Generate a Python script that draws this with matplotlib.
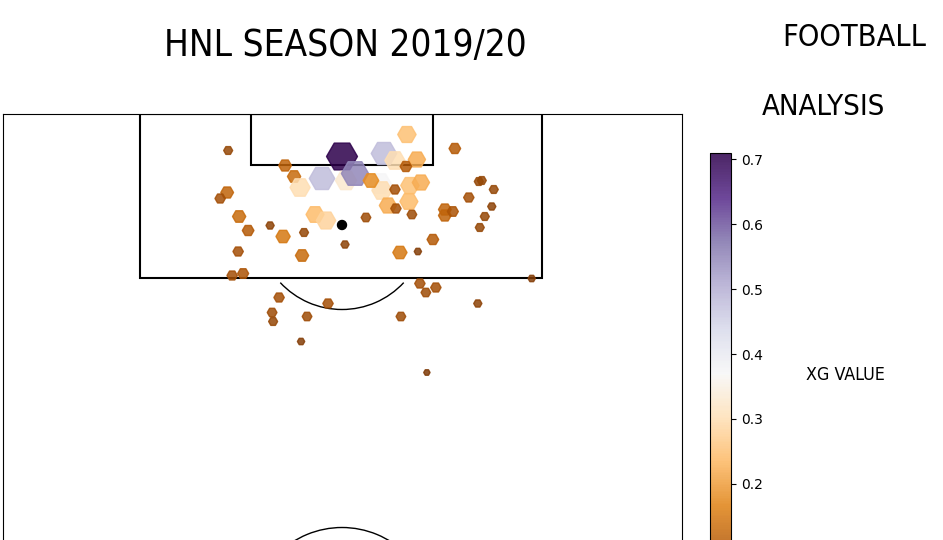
import numpy as np
import matplotlib.pyplot as plt
from matplotlib.patches import Arc, Circle, Rectangle
from matplotlib import colors

# shot positions: metres across the pitch (0-68) and metres out from the goal line
shot_x = [22.6, 34.0, 38.2, 40.5, 45.3, 41.5, 39.3, 28.3, 29.2, 29.8,
          32.0, 34.4, 35.3, 37.8, 38.0, 36.9, 40.4, 39.3, 40.8, 41.9,
          40.7, 38.6, 39.4, 41.0, 31.3, 32.4, 36.4, 34.3, 30.2, 26.8,
          28.1, 24.6, 23.7, 22.5, 21.8, 23.6, 30.0, 39.8, 41.6, 43.1,
          44.3, 44.3, 45.1, 46.7, 47.7, 48.0, 49.2, 49.0, 48.3, 47.8,
          23.0, 24.1, 27.7, 27.0, 27.1, 30.5, 32.6, 29.9, 39.9, 41.8,
          42.4, 43.4, 47.6, 42.5, 53.0]
shot_y = [3.7, 4.3, 4.0, 2.1, 3.5, 4.6, 4.7, 5.2, 6.3, 7.4,
          6.5, 6.7, 6.0, 7.0, 7.7, 6.7, 5.3, 7.6, 7.2, 6.9,
          8.8, 9.2, 9.5, 10.1, 10.1, 10.7, 10.4, 13.1, 11.9, 11.2,
          12.3, 11.7, 10.3, 7.9, 8.5, 13.8, 14.2, 13.9, 13.8, 12.6,
          9.6, 10.2, 9.8, 8.4, 6.8, 6.7, 7.6, 9.3, 10.3, 11.4,
          16.2, 16.0, 18.4, 19.9, 20.8, 20.3, 19.0, 22.8, 20.3, 17.0,
          17.9, 17.4, 19.0, 25.9, 16.5]
shot_xg = [0.06, 0.71, 0.48, 0.25, 0.10, 0.22, 0.30, 0.12, 0.13, 0.30,
           0.48, 0.33, 0.55, 0.37, 0.30, 0.18, 0.10, 0.08, 0.25, 0.22,
           0.24, 0.22, 0.08, 0.07, 0.24, 0.28, 0.07, 0.05, 0.06, 0.05,
           0.15, 0.10, 0.13, 0.12, 0.08, 0.08, 0.13, 0.15, 0.04, 0.10,
           0.12, 0.12, 0.09, 0.08, 0.06, 0.06, 0.06, 0.05, 0.06, 0.06,
           0.08, 0.09, 0.08, 0.07, 0.06, 0.07, 0.08, 0.04, 0.07, 0.08,
           0.07, 0.08, 0.05, 0.03, 0.04]

cb_ticks = [0.2, 0.3, 0.4, 0.5, 0.6, 0.7]

W, H = 943, 540
fig = plt.figure(figsize=(W / 100, H / 100), dpi=100)

# pitch axes: 10 px per metre, goal line at the top, runs off the bottom
ax = fig.add_axes([2.5 / W, 1 - (113.5 + 525) / H, 679 / W, 525 / H])
ax.set_xlim(0, 68)
ax.set_ylim(52.5, 0)
ax.set_xticks([])
ax.set_yticks([])

# penalty box, six yard box
ax.add_patch(Rectangle((13.75, 0), 40.3, 16.45, fill=False, lw=1.5, color='black'))
ax.add_patch(Rectangle((24.85, 0), 18.3, 5.1, fill=False, lw=1.5, color='black'))
ax.add_patch(Circle((34, 11.15), 0.45, color='black'))
ax.add_patch(Arc((34, 11.15), 16.9, 16.9, theta1=43, theta2=137, lw=1, color='black'))
ax.add_patch(Arc((34, 50.55), 18.3, 18.3, lw=1, color='black'))
ax.plot([0, 68], [50.55, 50.55], color='black', lw=1)

norm = colors.Normalize(vmin=0.03, vmax=0.71)
sizes = np.array(shot_xg) * 700
sc = ax.scatter(shot_x, shot_y, s=sizes, c=shot_xg, cmap='PuOr', norm=norm,
                marker='H', alpha=0.85, zorder=3)

cax = fig.add_axes([710 / W, 1 - (153 + 441) / H, 21 / W, 441 / H])
cb = fig.colorbar(sc, cax=cax, ticks=cb_ticks)
cb.ax.tick_params(labelsize=10)

txt = dict(ha='center', va='center', family='DejaVu Sans', fontstretch='condensed')
fig.text(845 / W, 1 - 375 / H, 'XG VALUE', fontsize=12.8, **txt)
fig.text(345 / W, 1 - 45 / H, 'HNL SEASON 2019/20', fontsize=26.5, **txt)
fig.text(854 / W, 1 - 38 / H, 'FOOTBALL', fontsize=22, **txt)
fig.text(823 / W, 1 - 107 / H, 'ANALYSIS', fontsize=21, **txt)

fig.savefig('out.png', dpi=100)
